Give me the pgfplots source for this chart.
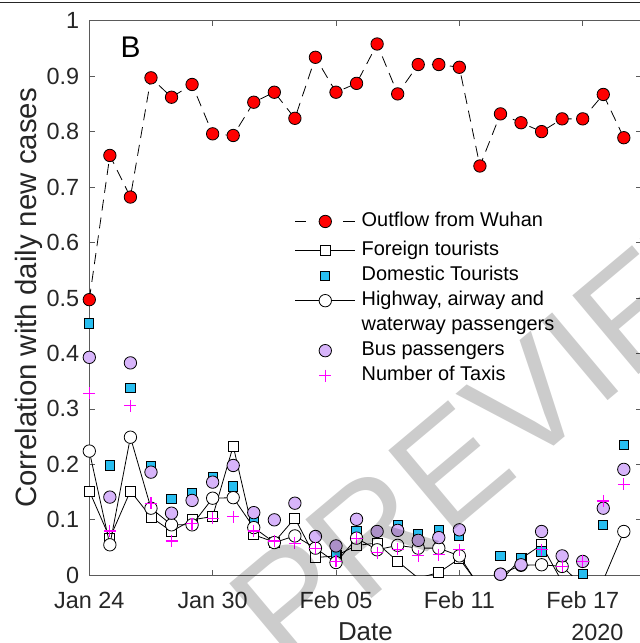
\documentclass[border=0pt]{standalone}
\usepackage{fontspec}
\setmainfont{Liberation Sans}
\usepackage{pgfplots}
\usepackage{pgfplotstable}
\pgfplotsset{compat=1.18}

\definecolor{axgray}{RGB}{90,90,90}
\definecolor{txt}{RGB}{38,38,38}
\definecolor{domcol}{RGB}{40,190,240}
\definecolor{buscol}{RGB}{215,180,250}
\definecolor{taxicol}{RGB}{255,0,255}

% day 0 = Jan 24, 2020
\pgfplotstableread{
day  wuhan  foreign  domestic  highway  bus    taxi
0    0.497  0.152    0.454     0.224    0.393  0.328
1    0.757  0.067    0.198     0.055    0.141  0.080
2    0.682  0.152    0.337     0.249    0.383  0.306
3    0.897  0.105    0.196     0.121    0.186  0.130
4    0.862  0.079    0.137     0.091    0.112  0.062
5    0.885  0.100    0.149     0.091    0.135  0.093
6    0.796  0.106    0.177     0.139    0.168  0.103
7    0.793  0.233    0.160     0.140    0.198  0.106
8    0.853  0.073    0.101     0.086    0.113  0.080
9    0.871  0.060    nan       0.059    0.100  0.062
10   0.824  0.103    nan       0.071    0.130  0.058
11   0.934  0.032    nan       0.049    0.070  0.049
12   0.871  0.035    0.040     0.023    0.053  0.025
13   0.887  0.054    0.079     0.067    0.101  0.067
14   0.958  0.058    nan       0.046    0.079  0.041
15   0.868  0.025    0.090     0.054    0.081  0.047
16   0.921  -0.005   0.074     0.049    0.063  0.035
17   0.921  0.005    0.082     0.049    0.068  0.037
18   0.916  0.030    0.071     0.035    0.082  0.046
19   0.738  -0.020   nan       -0.022   nan    nan
20   0.832  -0.010   0.035     0.002    0.002  nan
21   0.816  0.030    0.031     0.018    0.019  nan
22   0.800  0.055    0.043     0.019    0.079  0.046
23   0.823  -0.012   nan       0.016    0.035  0.016
24   0.823  -0.030   0.002     -0.019   0.025  0.025
25   0.867  -0.030   0.091     -0.009   0.121  0.134
26   0.789  -0.030   0.235     0.079    0.191  0.164
}\corrdata

\begin{document}
\begin{tikzpicture}
\useasboundingbox (0,0) rectangle (640bp,643bp);
\draw[line width=1.3bp, black!85] (0,640.4bp) -- (640bp,640.4bp);
\begin{axis}[
  at={(89.3bp,67.7bp)}, anchor=south west,
  scale only axis, width=552.2bp, height=554.6bp,
  xmin=0, xmax=26.86, ymin=0, ymax=1,
  clip mode=individual,
  /pgf/number format/assume math mode=true,
  xtick={0,6,12,18,24},
  xticklabels={Jan 24,Jan 30,Feb 05,Feb 11,Feb 17},
  ytick={0,0.1,0.2,0.3,0.4,0.5,0.6,0.7,0.8,0.9,1},
  yticklabels={0,0.1,0.2,0.3,0.4,0.5,0.6,0.7,0.8,0.9,1},
  tick align=inside, major tick length=5.5bp,
  tick style={line width=0.7bp, axgray},
  axis line style={line width=0.8bp, axgray},
  ticklabel style={font=\fontsize{23.5}{28}\selectfont, text=txt},
  yticklabel style={anchor=east, inner sep=0pt, xshift=-10bp},
  xticklabel style={anchor=north, inner sep=0pt, yshift=-16.5bp},
  xlabel={Date},
  xlabel style={at={(axis description cs:0.5,-0.1179)}, anchor=base, inner sep=0pt,
    font=\fontsize{26}{30}\selectfont, text=txt},
  ylabel={Correlation with daily new cases},
  ylabel style={at={(axis description cs:-0.0965,0.5)}, anchor=base, inner sep=0pt,
    font=\fontsize{29.5}{34}\selectfont, text=txt},
  legend image code/.code={%
    \draw[mark repeat=2,mark phase=2,#1] plot coordinates {(0bp,0bp) (30bp,0bp) (60bp,0bp)};},
  legend style={draw=none, fill=none, inner sep=0pt, outer sep=0pt,
    at={(axis cs:10.0,0.656)}, anchor=north west,
    font=\fontsize{20}{24}\selectfont,
    row sep=5bp, column sep=6bp,
    nodes={inner sep=0pt, outer sep=0pt, text height=15bp, text depth=5bp}},
  legend cell align=left,
]
% Outflow from Wuhan
\addplot[forget plot, black, line width=0.8bp, dash pattern=on 11bp off 7bp]
  table[x=day, y=wuhan] {\corrdata};
\addplot[forget plot, only marks, mark=*, mark size=6.2bp,
  mark options={fill=red, draw=black, line width=0.8bp, solid}]
  table[x=day, y=wuhan] {\corrdata};
% Foreign tourists
\addplot[forget plot, black, line width=0.8bp]
  table[x=day, y=foreign] {\corrdata};
\addplot[forget plot, only marks, mark=square*, mark size=5bp,
  mark options={fill=white, draw=black, line width=0.8bp},
  restrict y to domain=0:1]
  table[x=day, y=foreign] {\corrdata};
% Domestic tourists
\addplot[forget plot, only marks, mark=square*, mark size=4.6bp,
  mark options={fill=domcol, draw=black, line width=1bp},
  restrict y to domain=0:1]
  table[x=day, y=domestic] {\corrdata};
% Highway, airway and waterway passengers
\addplot[forget plot, black, line width=0.8bp]
  table[x=day, y=highway] {\corrdata};
\addplot[forget plot, only marks, mark=*, mark size=6.2bp,
  mark options={fill=white, draw=black, line width=0.8bp},
  restrict y to domain=0:1]
  table[x=day, y=highway] {\corrdata};
% Bus passengers
\addplot[forget plot, only marks, mark=*, mark size=6.2bp,
  mark options={fill=buscol, draw=black, line width=0.8bp},
  restrict y to domain=0:1]
  table[x=day, y=bus] {\corrdata};
% Number of taxis
\addplot[forget plot, only marks, taxicol, mark=+, mark size=6bp,
  mark options={draw=taxicol, line width=1.2bp},
  restrict y to domain=0:1]
  table[x=day, y=taxi] {\corrdata};

% legend (the first row is a little taller)
\addlegendimage{legend image code/.code={%
    \draw[black, line width=0.8bp, dash pattern=on 11bp off 37bp on 12bp]
      (0bp,0bp) -- (60bp,0bp);
    \path plot[mark=*, mark size=6.2bp,
      mark options={fill=red, draw=black, line width=0.8bp, solid}]
      coordinates {(30bp,0bp)};
    \path (30bp,-14bp);}}
\addlegendentry{Outflow from Wuhan}
\addlegendimage{black, line width=0.8bp, mark=square*, mark size=5bp,
  mark options={fill=white, draw=black}}
\addlegendentry{Foreign tourists}
\addlegendimage{only marks, mark=square*, mark size=4.6bp,
  mark options={fill=domcol, draw=black, line width=1bp}}
\addlegendentry{Domestic Tourists}
\addlegendimage{black, line width=0.8bp, mark=*, mark size=6.2bp,
  mark options={fill=white, draw=black}}
\addlegendentry{Highway, airway and}
\addlegendimage{empty legend}
\addlegendentry{waterway passengers}
\addlegendimage{only marks, mark=*, mark size=6.2bp,
  mark options={fill=buscol, draw=black, line width=0.8bp}}
\addlegendentry{Bus passengers}
\addlegendimage{legend image code/.code={%
    \path plot[mark=+, mark size=6bp,
      mark options={draw=taxicol, line width=1.2bp}]
      coordinates {(30bp,0bp)};}}
\addlegendentry{Number of Taxis}

\node[anchor=north west, inner sep=0pt, font=\fontsize{30}{36}\selectfont, text=black]
  at (axis cs:1.52,0.9706) {B};
\node[anchor=base, inner sep=0pt, font=\fontsize{23.5}{28}\selectfont, text=txt]
  at (axis cs:24.71,-0.1183) {2020};
\end{axis}
% watermark
\node[rotate=40, opacity=0.2, text=black, inner sep=0pt,
  font=\fontsize{150}{150}\selectfont] at (517bp,233bp) {PREVIEW};
\end{tikzpicture}
\end{document}
